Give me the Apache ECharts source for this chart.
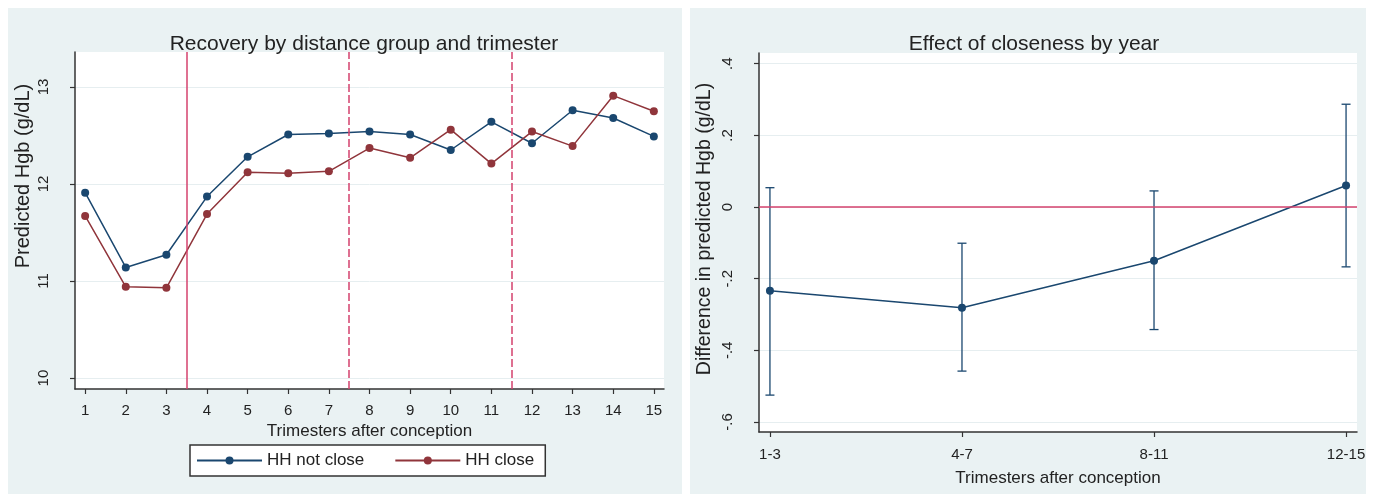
<!DOCTYPE html>
<html>
<head>
<meta charset="utf-8">
<script src="https://cdn.jsdelivr.net/npm/echarts@6/dist/echarts.min.js"></script>
<style>
  html, body { margin: 0; padding: 0; background: #fff; }
  #chart { width: 1374px; height: 496px; }
</style>
</head>
<body>
<div id="chart"></div>
<script>
// left panel: predicted Hgb by trimester
const trimesters = [1, 2, 3, 4, 5, 6, 7, 8, 9, 10, 11, 12, 13, 14, 15];
const hhNotClose = [11.91, 11.14, 11.27, 11.87, 12.28, 12.51, 12.52, 12.54, 12.51, 12.35, 12.64, 12.42, 12.76, 12.68, 12.49];
const hhClose = [11.67, 10.94, 10.93, 11.69, 12.12, 12.11, 12.13, 12.37, 12.27, 12.56, 12.21, 12.54, 12.39, 12.91, 12.75];
const cutoffs = [3.5, 7.5, 11.5];
const leftYTicks = [10, 11, 12, 13];

// right panel: effect of closeness
const periods = ['1-3', '4-7', '8-11', '12-15'];
const effect = [-0.234, -0.281, -0.150, 0.060];
const ciLow = [-0.525, -0.458, -0.342, -0.167];
const ciHigh = [0.054, -0.101, 0.045, 0.287];
const rightYTicks = [-0.6, -0.4, -0.2, 0, 0.2, 0.4];

const FONT = 'Liberation Sans, Arial, sans-serif';
const TXT = '#222';
const BLUE = '#1a476f';
const MAROON = '#90353b';
const CRAN = '#d4426e';
const GRID = '#e6eef0';
const AXIS = '#333';

const chart = echarts.init(document.getElementById('chart'));

// stata style: .4, -.2
function stataNum(v) {
  if (v === 0) return '0';
  return (v < 0 ? '-' : '') + String(Math.abs(v)).replace(/^0/, '');
}

const axisLine = { show: true, onZero: false, lineStyle: { color: AXIS, width: 1.5 } };
const axisTick = (vals) => ({ show: true, length: 5, lineStyle: { color: AXIS, width: 1.2 }, customValues: vals });

chart.setOption({
  animation: false,
  graphic: [
    { type: 'rect', z: -10, shape: { x: 8, y: 8, width: 674, height: 486 }, style: { fill: '#eaf2f3' } },
    { type: 'rect', z: -10, shape: { x: 690, y: 8, width: 676, height: 486 }, style: { fill: '#eaf2f3' } },
    { type: 'text', x: 23, y: 176, rotation: Math.PI / 2, style: { text: 'Predicted Hgb (g/dL)', fill: TXT, font: '20px ' + FONT, align: 'center', verticalAlign: 'middle' } },
    { type: 'text', x: 705, y: 229, rotation: Math.PI / 2, style: { text: 'Difference in predicted Hgb (g/dL)', fill: TXT, font: '19.5px ' + FONT, align: 'center', verticalAlign: 'middle' } }
  ],
  title: [
    { text: 'Recovery by distance group and trimester', left: 359, top: 29, textAlign: 'center',
      textStyle: { fontFamily: FONT, fontSize: 21, fontWeight: 'normal', color: TXT } },
    { text: 'Effect of closeness by year', left: 1029, top: 29, textAlign: 'center',
      textStyle: { fontFamily: FONT, fontSize: 21, fontWeight: 'normal', color: TXT } }
  ],
  legend: {
    data: ['HH not close', 'HH close'],
    left: 190, top: 445,
    itemWidth: 65, itemHeight: 10, itemGap: 30,
    padding: [7, 11, 7, 6],
    backgroundColor: '#fff', borderColor: AXIS, borderWidth: 1.5, borderRadius: 0,
    textStyle: { fontFamily: FONT, fontSize: 17, color: TXT }
  },
  grid: [
    { left: 75, top: 52, width: 589, height: 337, show: true, backgroundColor: '#fff', borderWidth: 0 },
    { left: 759, top: 53, width: 598, height: 379, show: true, backgroundColor: '#fff', borderWidth: 0 }
  ],
  xAxis: [
    { type: 'value', gridIndex: 0, min: 0.75, max: 15.25,
      name: 'Trimesters after conception', nameLocation: 'middle', nameGap: 26,
      nameTextStyle: { fontFamily: FONT, fontSize: 17, color: TXT },
      axisLine: axisLine, axisTick: axisTick(trimesters),
      axisLabel: { customValues: trimesters, margin: 14, fontFamily: FONT, fontSize: 15, color: TXT },
      splitLine: { show: false } },
    { type: 'value', gridIndex: 1, min: -0.057, max: 3.057,
      name: 'Trimesters after conception', nameLocation: 'middle', nameGap: 38,
      nameTextStyle: { fontFamily: FONT, fontSize: 17, color: TXT },
      axisLine: axisLine, axisTick: axisTick([0, 1, 2, 3]),
      axisLabel: { customValues: [0, 1, 2, 3], margin: 15, fontFamily: FONT, fontSize: 15, color: TXT,
        formatter: (v) => periods[Math.round(v)] },
      splitLine: { show: false } }
  ],
  yAxis: [
    { type: 'value', gridIndex: 0, min: 9.887, max: 13.36,
      axisLine: axisLine, axisTick: axisTick(leftYTicks),
      axisLabel: { customValues: leftYTicks, rotate: 90, margin: 24, fontFamily: FONT, fontSize: 15, color: TXT },
      splitLine: { show: true, lineStyle: { color: GRID, width: 1 } } },
    { type: 'value', gridIndex: 1, min: -0.628, max: 0.43,
      axisLine: axisLine, axisTick: axisTick(rightYTicks),
      axisLabel: { customValues: rightYTicks, rotate: 90, margin: 24, fontFamily: FONT, fontSize: 15, color: TXT,
        formatter: stataNum },
      splitLine: { show: true, lineStyle: { color: GRID, width: 1 } } }
  ],
  series: [
    {
      name: 'HH not close', type: 'line', xAxisIndex: 0, yAxisIndex: 0,
      data: trimesters.map((t, i) => [t, hhNotClose[i]]),
      symbol: 'circle', symbolSize: 8,
      itemStyle: { color: BLUE }, lineStyle: { color: BLUE, width: 1.5 }
    },
    {
      name: 'HH close', type: 'line', xAxisIndex: 0, yAxisIndex: 0,
      data: trimesters.map((t, i) => [t, hhClose[i]]),
      symbol: 'circle', symbolSize: 8,
      itemStyle: { color: MAROON }, lineStyle: { color: MAROON, width: 1.5 }
    },
    {
      name: 'cutoffs', type: 'line', xAxisIndex: 0, yAxisIndex: 0, data: [],
      markLine: {
        silent: true, symbol: 'none', label: { show: false },
        data: cutoffs.map((c, i) => ({ xAxis: c, lineStyle: { color: CRAN, width: 1.5, type: i === 0 ? 'solid' : [8, 3] } }))
      }
    },
    {
      name: 'ci', type: 'custom', xAxisIndex: 1, yAxisIndex: 1,
      data: periods.map((p, i) => [i, ciLow[i], ciHigh[i]]),
      renderItem: (params, api) => {
        const x = api.value(0);
        const lo = api.coord([x, api.value(1)]);
        const hi = api.coord([x, api.value(2)]);
        const w = 4.5;
        const st = { stroke: BLUE, lineWidth: 1.3 };
        return { type: 'group', children: [
          { type: 'line', shape: { x1: hi[0], y1: hi[1], x2: lo[0], y2: lo[1] }, style: st },
          { type: 'line', shape: { x1: hi[0] - w, y1: hi[1], x2: hi[0] + w, y2: hi[1] }, style: st },
          { type: 'line', shape: { x1: lo[0] - w, y1: lo[1], x2: lo[0] + w, y2: lo[1] }, style: st }
        ] };
      },
      z: 3
    },
    {
      name: 'effect', type: 'line', xAxisIndex: 1, yAxisIndex: 1,
      data: periods.map((p, i) => [i, effect[i]]),
      symbol: 'circle', symbolSize: 8,
      itemStyle: { color: BLUE }, lineStyle: { color: BLUE, width: 1.5 },
      markLine: {
        silent: true, symbol: 'none', label: { show: false },
        data: [{ yAxis: 0, lineStyle: { color: CRAN, width: 1.5, type: 'solid' } }]
      },
      z: 4
    }
  ]
});
</script>
</body>
</html>
